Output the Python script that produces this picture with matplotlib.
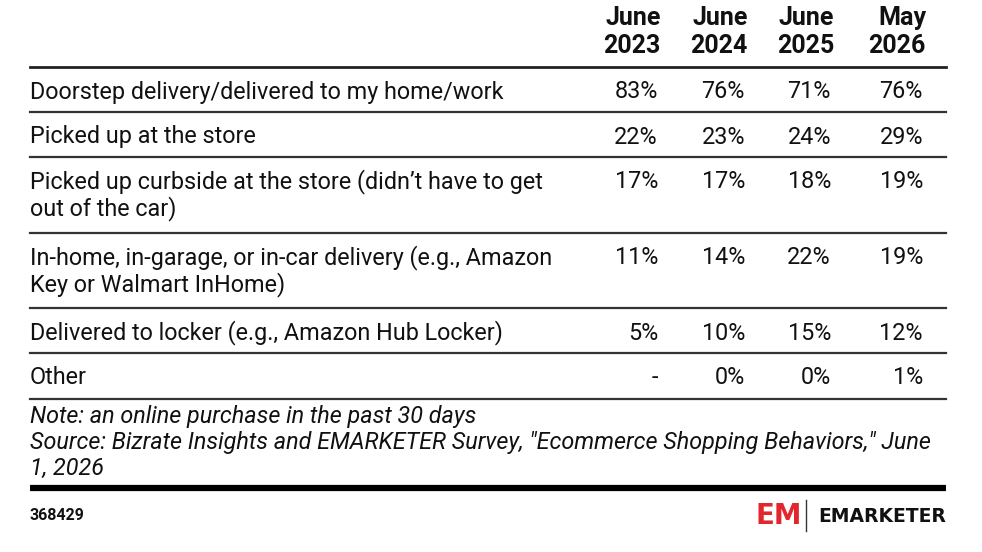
import matplotlib.pyplot as plt

# data
columns = ["June\n2023", "June\n2024", "June\n2025", "May\n2026"]
categories = [
    "Doorstep delivery/delivered to my home/work",
    "Picked up at the store",
    "Picked up curbside at the store (didn\u2019t have to get\nout of the car)",
    "In-home, in-garage, or in-car delivery (e.g., Amazon\nKey or Walmart InHome)",
    "Delivered to locker (e.g., Amazon Hub Locker)",
    "Other",
]
values = [
    ["83%", "76%", "71%", "76%"],
    ["22%", "23%", "24%", "29%"],
    ["17%", "17%", "18%", "19%"],
    ["11%", "14%", "22%", "19%"],
    ["5%", "10%", "15%", "12%"],
    ["-", "0%", "0%", "1%"],
]
notes = [
    "Note: an online purchase in the past 30 days",
    "Source: Bizrate Insights and EMARKETER Survey, \"Ecommerce Shopping Behaviors,\" June",
    "1, 2026",
]
chart_id = "368429"

plt.rcParams['font.family'] = ['Roboto', 'DejaVu Sans']

W, H = 982, 552
fig = plt.figure(figsize=(W / 100, H / 100), dpi=100)
ax = fig.add_axes([0, 0, 1, 1])
ax.set_xlim(0, W)
ax.set_ylim(H, 0)
ax.axis("off")

left, right = 30, 946
col_x = [661, 748, 834, 926]
fs = 16.8
ink = "#111111"

# header
for x, c in zip(col_x, columns):
    for k, line in enumerate(c.split("\n")):
        ax.text(x, 18 + k * 28, line, ha="right", va="center", fontsize=18,
                fontweight="bold", color=ink)
ax.plot([left, right], [67, 67], color="#222222", lw=2)

row_tops = [67, 112, 157, 233, 308, 353, 399]
for i, (cat, vals) in enumerate(zip(categories, values)):
    ty = row_tops[i] + 25
    for k, line in enumerate(cat.split("\n")):
        ax.text(left, ty + k * 27, line, ha="left", va="center", fontsize=fs,
                color=ink)
    for x, v in zip(col_x, vals):
        ax.text(x - 3, ty, v, ha="right", va="center", fontsize=fs, color=ink)
    ax.plot([left, right], [row_tops[i + 1]] * 2, color="#333333", lw=1.6)

for k, line in enumerate(notes):
    ax.text(left, 416 + k * 26, line, ha="left", va="center", fontsize=16.8,
            style="italic", color=ink)

ax.plot([left, right], [488, 488], color="black", lw=4.5, solid_capstyle="butt")
ax.text(left, 516, chart_id, ha="left", va="center", fontsize=11.5,
        fontweight="bold", color=ink)

# logo
ax.text(756, 516, "EM", ha="left", va="center", fontsize=20, fontweight="bold",
        color="#e3262e", family="DejaVu Sans")
ax.plot([806, 806], [500, 531], color="#333333", lw=1)
ax.text(946, 516, "EMARKETER", ha="right", va="center", fontsize=13.5,
        fontweight="bold", color=ink, family="DejaVu Sans")

fig.savefig("out.png", dpi=100)
